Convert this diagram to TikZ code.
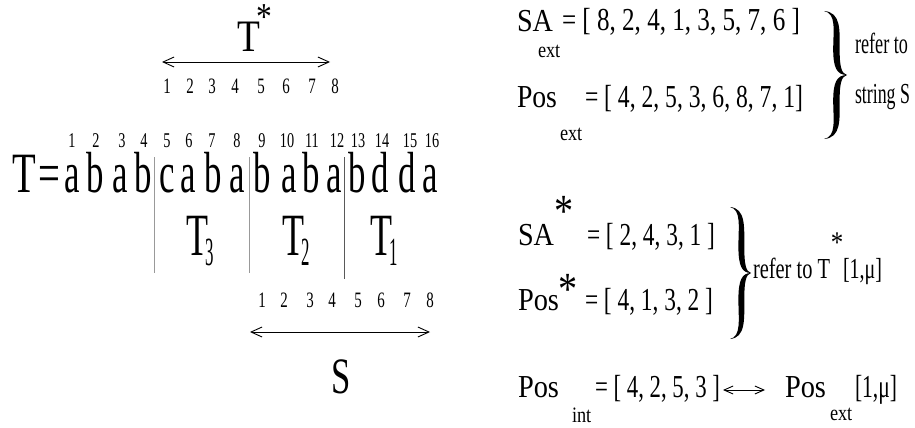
\documentclass[tikz,border=0pt]{standalone}
\usepackage{fontspec}
\usepackage{graphicx}
\setmainfont{Liberation Serif}
\newfontfamily\fa[FakeStretch=0.68]{Liberation Serif}
\newfontfamily\fb[FakeStretch=0.83]{Liberation Serif}
\newfontfamily\fc[FakeStretch=0.6]{Liberation Serif}
\usetikzlibrary{arrows.meta}
\newcommand\fsz[1]{\fontsize{#1}{#1}\selectfont}
\newcommand\fitw[2]{\resizebox{#1pt}{\height}{#2}}
\tikzset{
  txt/.style={inner sep=0pt, outer sep=0pt},
  big/.style={txt, anchor=base, font={\fc\fsz{58}}},
  idx/.style={txt, anchor=base, font={\fa\fsz{21}}},
  idxb/.style={txt, anchor=base, font={\fa\fsz{22}}},
  rt/.style={txt, anchor=base west, font={\fb\fsz{32}}},
  sub/.style={txt, anchor=base west, font={\fb\fsz{22}}},
  lab/.style={txt, anchor=base west, font={\fa\fsz{29}}},
  astr/.style={txt, anchor=base, font={\fb\fsz{46}}},
  divider/.style={line width=0.9pt},
  dbl/.style={line width=0.9pt, {Straight Barb[length=11pt,width=10pt]}-{Straight Barb[length=11pt,width=10pt]}},
  dbls/.style={line width=0.9pt, {Straight Barb[length=9pt,width=8pt]}-{Straight Barb[length=9pt,width=8pt]}},
}
\newcommand\mybrace[4]{% x0, y0, w, h
  \fill[shift={(#1,#2)}, xscale=#3, yscale=#4]
    (0,0) .. controls (0.75,0.01) and (0.68,0.15) .. (0.68,0.3)
          .. controls (0.68,0.43) and (0.75,0.49) .. (1,0.5)
          .. controls (0.75,0.51) and (0.68,0.57) .. (0.68,0.7)
          .. controls (0.68,0.85) and (0.75,0.99) .. (0,1)
          .. controls (0.55,0.98) and (0.40,0.85) .. (0.40,0.7)
          .. controls (0.40,0.56) and (0.55,0.5) .. (1,0.5)
          .. controls (0.55,0.5) and (0.40,0.44) .. (0.40,0.3)
          .. controls (0.40,0.15) and (0.55,0.02) .. (0,0) -- cycle;}
\begin{document}
\begin{tikzpicture}[x=1pt,y=-1pt]
\useasboundingbox (0,0) rectangle (915,428);
% T* label and arrow
\node[txt, anchor=base, font={\fb\fsz{45}}] (tstar) at (249,52) {T};
\node[astr, font={\fb\fsz{38}}] (tstars) at (264,30) {*};
\coordinate (ta1) at (162,62);
\coordinate (ta2) at (330,62);
\draw[dbl] (ta1) -- (ta2);
\foreach \x [count=\i] in {167,190,212,235,261,286,312,335}
  \node[idxb] (tn\i) at (\x,93) {\i};
% main string
\node[txt, anchor=base, font={\fa\fsz{57}}] (tT) at (24,192) {T};
\node[txt, anchor=base, font={\fa\fsz{57}}] (teq) at (49,192) {=};
\foreach \ch/\x [count=\i] in {a/72,b/95,a/120,b/143,c/167,a/188,b/213,a/237,b/262,a/289,b/311,a/334,b/357,d/380,d/407,a/430}
  \node[big] (c\i) at (\x,192) {\ch};
\foreach \x [count=\i] in {72,96,122,144,167,189,212,237,262,287,312,337,358,382,410,432}
  \node[idx] (n\i) at (\x,147) {\i};
% dividers
\coordinate (d1a) at (154,157); \coordinate (d1b) at (154,273);
\coordinate (d2a) at (249,157); \coordinate (d2b) at (249,273);
\coordinate (d3a) at (344,157); \coordinate (d3b) at (344,279);
\draw[divider, black!40] (d1a) -- (d1b);
\draw[divider, black!40] (d2a) -- (d2b);
\draw[divider, black!65] (d3a) -- (d3b);
% T3 T2 T1
\foreach \k/\x in {3/186,2/282,1/370}{
  \node[txt, anchor=base west, font={\fc\fsz{60}}] (t\k) at (\x,255) {T};
  \node[txt, anchor=base west, font={\fc\fsz{40}}] (t\k s) at (\x+19,265) {\scalebox{0.7}[1]{\k}};
}
% S indices and arrow
\foreach \x [count=\i] in {262,284,310,332,358,381,407,430}
  \node[idxb] (sn\i) at (\x,307) {\i};
\coordinate (sa1) at (250,332);
\coordinate (sa2) at (430,332);
\draw[dbl] (sa1) -- (sa2);
\node[txt, anchor=base, font={\fa\fsz{51}}] (S) at (341,393) {S};
% right side: external arrays
\node[rt] (SAe) at (517,32) {\fitw{36}{SA}};
\node[sub] (SAes) at (538,57) {ext};
\node[rt] (SAev) at (562,31) {\fitw{238}{= [ 8, 2, 4, 1, 3, 5, 7, 6 ]}};
\node[rt] (Pe) at (517,107) {\fitw{40}{Pos}};
\node[sub] (Pes) at (560,140) {ext};
\node[rt] (Pev) at (585,107) {\fitw{218}{= [ 4, 2, 5, 3, 6, 8, 7, 1]}};
\mybrace{824}{11}{23}{128}
\node[lab] (r1) at (855,53) {\fitw{53}{refer to}};
\node[lab] (r2) at (855,103) {\fitw{55}{string S}};
% starred arrays
\node[rt] (SAs) at (518,245) {\fitw{36}{SA}};
\node[astr] (SAst) at (564,226) {*};
\node[rt] (SAsv) at (587,245) {\fitw{128}{= [ 2, 4, 3, 1 ]}};
\node[rt] (Ps) at (518,310) {\fitw{41}{Pos}};
\node[astr] (Pst) at (568,304) {*};
\node[rt] (Psv) at (585,310) {\fitw{128}{= [ 4, 1, 3, 2 ]}};
\mybrace{730}{207}{21}{132}
\node[lab] (r3) at (753,278) {\fitw{77}{refer to T}};
\node[txt, anchor=base, font={\fb\fsz{30}}] (r3s) at (837,252) {*};
\node[lab] (r3b) at (843,278) {\fitw{39}{[1,μ]}};
% internal positions
\node[rt] (Pi) at (518,397) {\fitw{41}{Pos}};
\node[sub] (Pis) at (572,422) {int};
\node[rt] (Piv) at (595,397) {\fitw{125}{= [ 4, 2, 5, 3 ]}};
\coordinate (ia1) at (723,390);
\coordinate (ia2) at (765,390);
\draw[dbls] (ia1) -- (ia2);
\node[rt] (Px) at (785,397) {\fitw{41}{Pos}};
\node[sub] (Pxs) at (830,420) {ext};
\node[rt] (Pxv) at (855,397) {\fitw{42}{[1,μ]}};
\end{tikzpicture}
\end{document}
